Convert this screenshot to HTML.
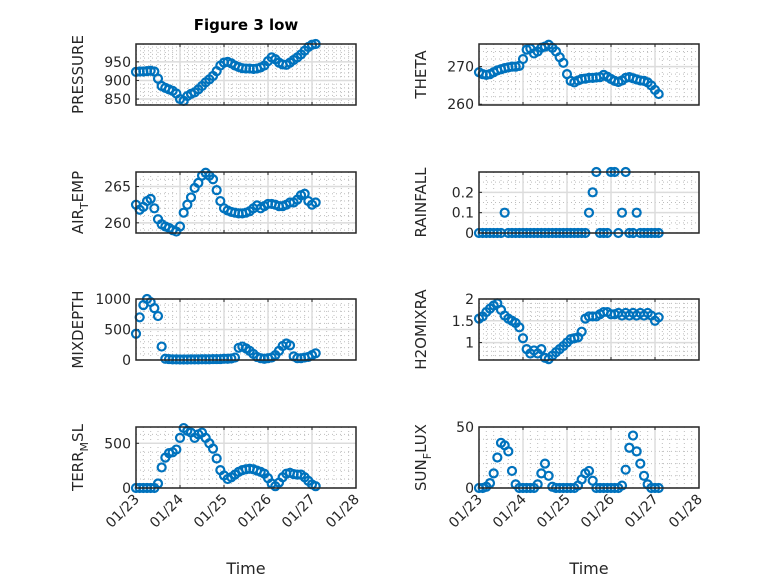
<!DOCTYPE html>
<html><head><meta charset="utf-8"><style>
html,body{margin:0;padding:0;background:#fff}
svg{display:block;font-family:"DejaVu Sans","Liberation Sans",sans-serif}
</style></head><body>
<svg id="fig" width="778" height="583" viewBox="0 0 778 583" xmlns="http://www.w3.org/2000/svg">
<rect width="778" height="583" fill="#fff"/>
<text x="246" y="30" text-anchor="middle" font-size="15" font-weight="bold" fill="#000">Figure 3 low</text>
</svg>
<script>
// time in days since 01/23, 2-hour steps
const times = [0,0.0833,0.1667,0.25,0.3333,0.4167,0.5,0.5833,0.6667,0.75,0.8333,0.9167,1,1.0833,1.1667,1.25,1.3333,1.4167,1.5,1.5833,1.6667,1.75,1.8333,1.9167,2,2.0833,2.1667,2.25,2.3333,2.4167,2.5,2.5833,2.6667,2.75,2.8333,2.9167,3,3.0833,3.1667,3.25,3.3333,3.4167,3.5,3.5833,3.6667,3.75,3.8333,3.9167,4,4.0833];
const xTickLabels = ["01/23","01/24","01/25","01/26","01/27","01/28"];
const pressure = [923,924,924,925,926,924,905,885,880,876,872,865,850,845,858,864,868,876,885,895,903,912,925,940,948,950,946,940,936,933,932,932,931,932,935,940,952,962,957,948,943,942,948,955,962,970,980,990,996,998];
const pressureTicks = [850,900,950];
const theta = [268.5,268.0,267.8,268.0,268.5,269.0,269.3,269.6,269.8,270.0,270.0,270.2,272.0,274.5,274.8,273.5,274.0,275.0,275.3,275.8,275.0,274.0,272.5,271.0,268.0,266.2,265.8,266.3,266.7,266.8,267.0,267.0,267.1,267.2,267.8,267.3,266.7,266.2,265.9,266.3,267.0,267.2,266.9,266.6,266.3,266.2,265.8,265.0,263.8,262.7];
const thetaTicks = [260,270];
const airTemp = [262.5,261.8,262.2,263.0,263.3,262.0,260.5,259.8,259.5,259.3,259.0,258.8,259.5,261.4,262.5,263.5,264.8,265.5,266.5,266.9,266.5,266.0,264.5,263.0,262.0,261.7,261.5,261.4,261.3,261.3,261.4,261.6,262.0,262.4,262.0,262.3,262.6,262.6,262.5,262.3,262.3,262.5,262.8,262.8,263.2,263.8,264.0,263.0,262.5,262.8];
const airTempTicks = [260,265];
const rainfall = [0,0,0,0,0,0,0,0.1,0,0,0,0,0,0,0,0,0,0,0,0,0,0,0,0,0,0,0,0,0,0,0.1,0.2,0.3,0,0,0,0.3,0.3,0,0.1,0.3,0,0,0.1,0,0,0,0,0,0];
const rainfallTicks = [0,0.1,0.2];
const mixDepth = [430,700,900,1000,950,850,720,220,20,15,10,10,8,8,8,10,10,10,12,12,12,15,15,15,20,20,25,40,200,220,190,150,100,50,30,20,30,40,80,150,230,270,240,60,30,30,40,50,80,110];
const mixDepthTicks = [0,500,1000];
const h2oMix = [1.55,1.6,1.7,1.78,1.85,1.9,1.75,1.62,1.55,1.5,1.45,1.35,1.1,0.85,0.75,0.82,0.75,0.85,0.65,0.62,0.7,0.78,0.85,0.92,1.0,1.08,1.1,1.12,1.25,1.55,1.6,1.6,1.6,1.65,1.7,1.7,1.65,1.65,1.68,1.62,1.68,1.62,1.68,1.62,1.68,1.62,1.68,1.62,1.5,1.58];
const h2oMixTicks = [1,1.5,2];
const terrMsl = [0,0,0,0,0,0,50,230,340,390,400,430,560,670,640,620,560,600,620,560,500,440,330,200,140,100,120,150,180,200,210,215,210,195,180,160,110,50,20,60,120,160,170,155,150,150,120,80,40,20];
const terrMslTicks = [0,500];
const sunFlux = [0,0,1,4,12,25,37,35,30,14,3,0,0,0,0,0,3,12,20,10,1,0,0,0,0,0,0,2,7,12,14,6,0,0,0,0,0,0,0,2,15,33,43,30,20,10,3,0,0,0];
const sunFluxTicks = [0,50];

const NS='http://www.w3.org/2000/svg';
const svg=document.getElementById('fig');
function mk(tag,attrs,parent){const e=document.createElementNS(NS,tag);for(const k in attrs)e.setAttribute(k,attrs[k]);(parent||svg).appendChild(e);return e;}

const panels=[
 {key:'pressure',label:['PRESSURE'],vals:pressure,ticks:pressureTicks,lim:[834,998],minor:10,col:0,row:0},
 {key:'theta',label:['THETA'],vals:theta,ticks:thetaTicks,lim:[259.8,276],minor:2,col:1,row:0},
 {key:'air-temp',label:['AIR','T','EMP'],vals:airTemp,ticks:airTempTicks,lim:[258.6,267],minor:1,col:0,row:1},
 {key:'rainfall',label:['RAINFALL'],vals:rainfall,ticks:rainfallTicks,lim:[0,0.3],minor:0.05,col:1,row:1},
 {key:'mixdepth',label:['MIXDEPTH'],vals:mixDepth,ticks:mixDepthTicks,lim:[0,1000],minor:100,col:0,row:2},
 {key:'h2omixra',label:['H2OMIXRA'],vals:h2oMix,ticks:h2oMixTicks,lim:[0.6,2],minor:0.1,col:1,row:2},
 {key:'terr-msl',label:['TERR','M','SL'],vals:terrMsl,ticks:terrMslTicks,lim:[0,682],minor:100,col:0,row:3},
 {key:'sun-flux',label:['SUN','F','LUX'],vals:sunFlux,ticks:sunFluxTicks,lim:[0,50],minor:10,col:1,row:3}
];
const colX=[136,479], W=220, rowY=[44,172,299,427], H=61, XMAX=5;

panels.forEach(p=>{
  const x0=colX[p.col], y0=rowY[p.row];
  const g=mk('g',{});
  
  
  const xs=t=>x0+t/XMAX*W;
  const ys=v=>y0+H-(v-p.lim[0])/(p.lim[1]-p.lim[0])*H;
  for(let t=0;t<=XMAX*6;t++){ if(t%6===0)continue; const x=xs(t/6);
    const l=mk('line',{x1:x,x2:x,y1:y0,y2:y0+H,stroke:'#bdbdbd','stroke-width':1,'stroke-dasharray':'1 3'},g);
    
    }
  const start=Math.ceil(p.lim[0]/p.minor-1e-9);
  for(let k=start;k*p.minor<=p.lim[1]+1e-9;k++){ const v=k*p.minor; const y=ys(v);
    const l=mk('line',{x1:x0,x2:x0+W,y1:y,y2:y,stroke:'#bdbdbd','stroke-width':1,'stroke-dasharray':'1 3'},g);
    
    }
  for(let d=1;d<XMAX;d++){ const x=xs(d);
    const l=mk('line',{x1:x,x2:x,y1:y0,y2:y0+H,stroke:'#dcdcdc','stroke-width':1.5},g);
    
    }
  p.ticks.forEach(v=>{ const y=ys(v);
    const l=mk('line',{x1:x0,x2:x0+W,y1:y,y2:y,stroke:'#dcdcdc','stroke-width':1.5},g);
    
    
    const tk=mk('line',{x1:x0,x2:x0+3,y1:y,y2:y,stroke:'#262626','stroke-width':1},g);
    
    
    const tx=mk('text',{x:x0-5,y:y+5,'text-anchor':'end','font-size':14,fill:'#262626'},g);
    tx.textContent=String(v);
    
    });
  for(let d=0;d<=XMAX;d++){ const x=xs(d);
    const t1=mk('line',{x1:x,x2:x,y1:y0+H,y2:y0+H-3,stroke:'#262626','stroke-width':1},g);
    
    
    const t2=mk('line',{x1:x,x2:x,y1:y0,y2:y0+3,stroke:'#262626','stroke-width':1},g);
    
    
    if(p.row===3){
      const tx=mk('text',{x:x+4,y:y0+H+12,'text-anchor':'end','font-size':14,fill:'#262626',transform:`rotate(-45 ${x+4} ${y0+H+12})`},g);
      tx.textContent=xTickLabels[d];
      
      }
  }
  p.vals.forEach((v,i)=>{
    const c=mk('circle',{cx:xs(times[i]),cy:ys(v),r:4,fill:'none',stroke:'#0072BD','stroke-width':2.2},g);
    
    });
  const b=mk('rect',{x:x0,y:y0,width:W,height:H,fill:'none',stroke:'#262626','stroke-width':1.5},g);
  
  
  const lx=x0-53, ly=y0+H/2;
  const yl=mk('text',{x:lx,y:ly,'text-anchor':'middle','font-size':15,fill:'#262626',transform:`rotate(-90 ${lx} ${ly})`},g);
  
  
  if(p.label.length===1){yl.textContent=p.label[0];}
  else{
    const a=mk('tspan',{},yl);a.textContent=p.label[0];
    const s=mk('tspan',{dy:5,'font-size':11},yl);s.textContent=p.label[1];
    const c=mk('tspan',{dy:-5},yl);c.textContent=p.label[2];
  }
  if(p.row===3){
    const xl=mk('text',{x:x0+W/2,y:574,'text-anchor':'middle','font-size':16,fill:'#262626'},g);
    xl.textContent='Time';
    
    }
});
</script>
</body></html>
